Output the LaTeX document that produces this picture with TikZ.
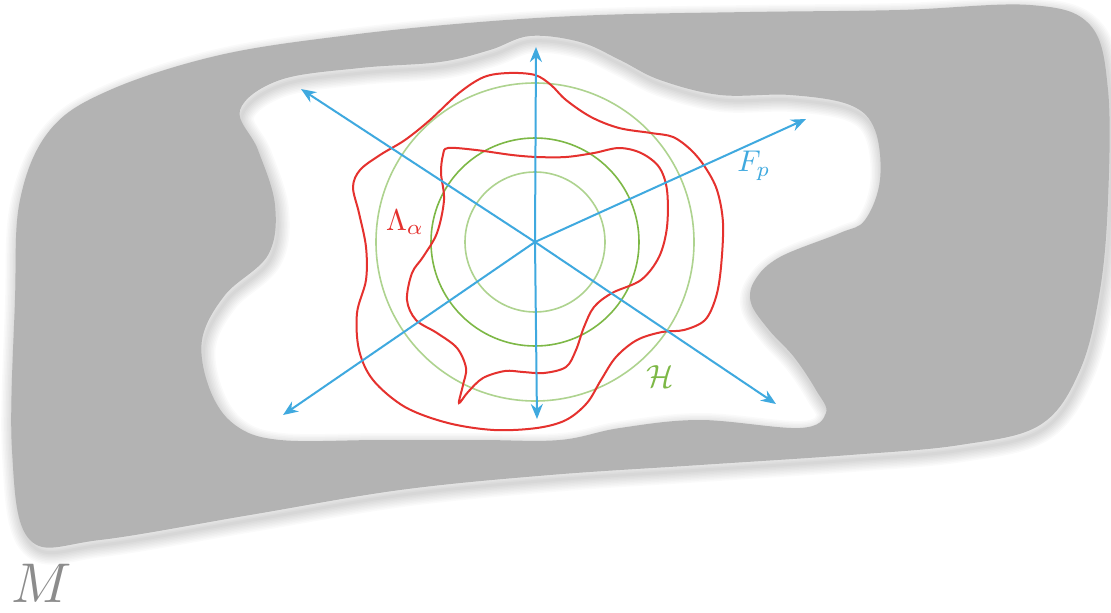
\documentclass[tikz,border=0pt]{standalone}
\usetikzlibrary{arrows.meta}
\definecolor{mgray}{HTML}{B3B3B3}
\definecolor{axblue}{HTML}{3FA9DF}
\definecolor{lred}{HTML}{E5312E}
\definecolor{glight}{HTML}{AED38F}
\definecolor{gdark}{HTML}{7DB846}
\definecolor{labgray}{HTML}{8C8C8C}
\begin{document}
\begin{tikzpicture}[x=1pt,y=-1pt,
  axis/.style={draw=axblue,line width=2pt,-{Stealth[length=15pt,width=12pt]}},
  lam/.style={draw=lred,line width=2pt},
  hcirc/.style={line width=1.6pt},
  lab/.style={inner sep=0pt},
  mshape/.style={insert path={
   plot[smooth cycle,tension=0.6] coordinates {(15,300) (20,200) (50,130) (110,90) (220,55) (350,35) (480,22) (600,15) (750,12) (900,10) (1030,5) (1090,25) (1108,90) (1108,200) (1100,290) (1080,370) (1040,425) (960,445) (850,455) (700,465) (550,475) (400,490) (250,515) (100,540) (30,540) (12,450)}
   plot[smooth cycle,tension=0.6] coordinates {(240,110) (280,80) (360,68) (440,62) (490,50) (530,36) (580,42) (620,60) (660,80) (720,95) (790,95) (850,105) (875,130) (880,180) (865,220) (840,233) (780,257) (755,280) (751,303) (769,330) (794,357) (816,390) (826,413) (800,428) (700,420) (620,428) (560,440) (480,440) (380,440) (280,440) (235,425) (210,390) (202,340) (225,295) (268,255) (275,205) (258,150)}}}]
\useasboundingbox (0,0) rectangle (1111,613);
\fill[white] (0,0) rectangle (1111,613);
% soft shadow
\begin{scope}[shift={(2,5)}]
\foreach \w in {3,6,...,24} \draw[black,opacity=0.02,line width=\w pt,mshape];
\end{scope}
% gray manifold with hole
\fill[mgray,even odd rule,mshape];
% circles
\coordinate (o) at (535,242);
\draw[glight,hcirc] (o) circle[radius=70];
\draw[gdark,hcirc] (o) circle[radius=104];
\draw[glight,hcirc] (o) circle[radius=159];
% red curves
\draw[lam] plot[smooth cycle,tension=0.55] coordinates {(509,73) (535,75) (551,85) (566,100) (591,117) (619,128) (651,133) (673,137) (691,150) (705,167) (717,190) (723,223) (721,267) (716,297) (705,320) (684,330) (662,332) (637,340) (616,357) (601,380) (587,403) (566,420) (537,428) (494,430) (448,423) (405,407) (373,380) (359,350) (357,313) (366,280) (366,247) (359,213) (353,187) (360,170) (380,155) (405,140) (430,120) (459,93) (484,77)};
\draw[lam] plot[smooth cycle,tension=0.55] coordinates {(448,148) (476,150) (512,155) (537,157) (566,157) (594,153) (619,148) (641,153) (659,167) (667,190) (667,227) (659,257) (641,280) (612,293) (594,307) (584,327) (576,350) (566,367) (544,373) (523,372) (505,371) (483,378) (468,392) (459,403) (463,385) (466,368) (457,348) (437,333) (416,320) (407,300) (412,273) (423,257) (437,233) (444,200) (441,173) (443,155)};
% axes
\coordinate (tN) at (536,47);
\coordinate (tS) at (537,419);
\coordinate (tNW) at (301,89);
\coordinate (tSE) at (776,404);
\coordinate (tNE) at (806,119);
\coordinate (tSW) at (283,415);
\foreach \t in {tN,tS,tNW,tSE,tNE,tSW} \draw[axis] (o) -- (\t);
% labels
\node[lab,text=lred,scale=3] (lab1) at (405,222) {$\Lambda_\alpha$};
\node[lab,text=axblue,scale=3] (lab2) at (754,166) {$F_p$};
\node[lab,text=gdark,scale=3.2] (lab3) at (660,377) {$\mathcal{H}$};
\node[lab,text=labgray,scale=5.6] (lab4) at (42,583) {$M$};
\end{tikzpicture}
\end{document}
